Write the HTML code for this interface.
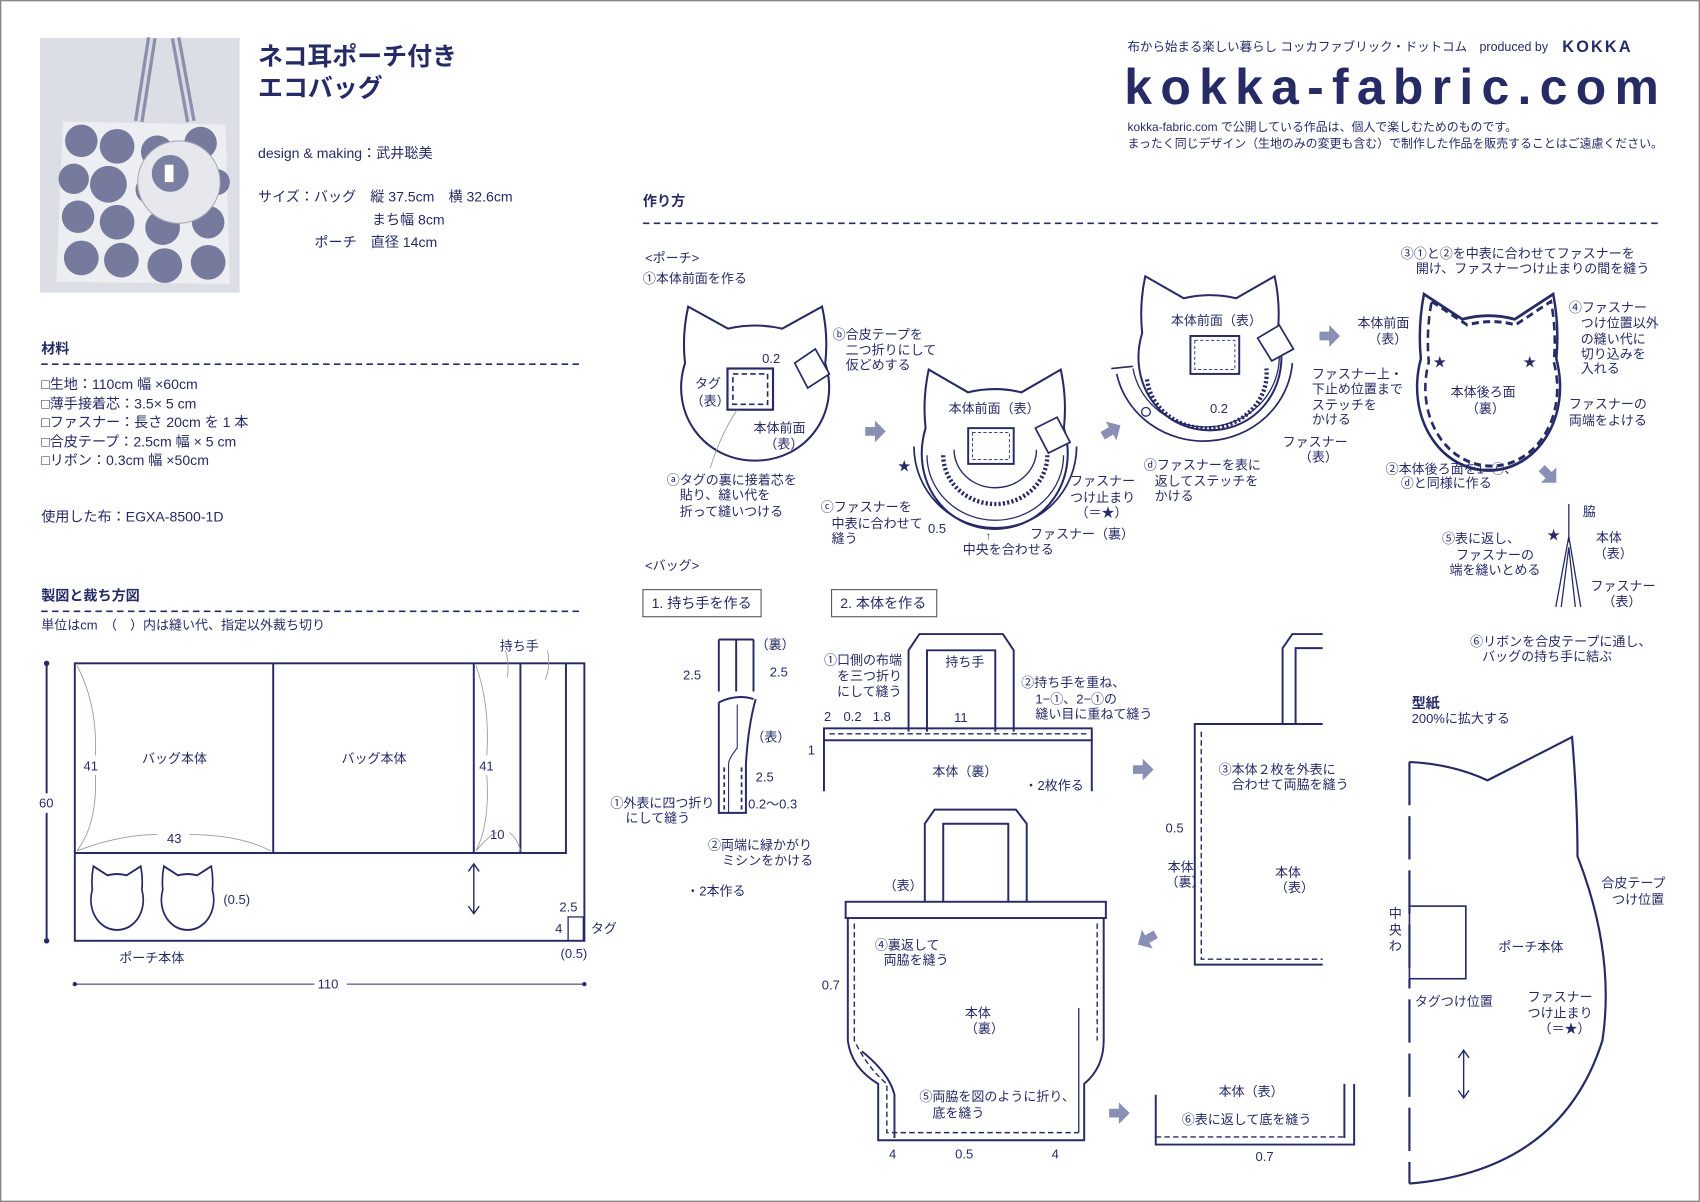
<!DOCTYPE html>
<html><head><meta charset="utf-8"><style>
html,body{margin:0;padding:0;background:#fff;}
svg{display:block;}
text{font-family:"Liberation Sans","Noto Sans CJK JP",sans-serif;fill:#262b66;font-size:12px;}
.b{font-weight:bold;}
</style></head><body>
<svg width="1700" height="1202" viewBox="0 0 1568 1109" preserveAspectRatio="none" xmlns="http://www.w3.org/2000/svg">
<defs>
<path id="cat" d="M8,2 L33,16 Q50,12 67,16 L92,2 Q96,20 94,38 C104,70 82,100 50,100 C18,100 -4,70 6,38 Q4,20 8,2 Z"/>
<path id="arr" d="M0,-4 L9,-4 L9,-10 L19,0 L9,10 L9,4 L0,4 Z" fill="#8a90b5"/>
</defs>
<rect x="0.5" y="0.5" width="1567" height="1108" fill="#fff" stroke="#888" stroke-width="1.5"/>

<!-- photo -->
<rect x="37" y="35" width="184" height="235" fill="#dcdee5"/>
<path d="M140,35 L128,112 M162,35 L176,112" stroke="#8a8fae" stroke-width="9" fill="none"/>
<path d="M140,35 L128,112 M162,35 L176,112" stroke="#d8dae4" stroke-width="3" fill="none"/>
<path d="M58,112 L208,115 L212,262 L52,260 Z" fill="#eceef2"/>
<g fill="#767b9e">
<circle cx="75" cy="130" r="15"/><circle cx="108" cy="135" r="16"/><circle cx="145" cy="140" r="15"/><circle cx="185" cy="132" r="15"/>
<circle cx="68" cy="165" r="14"/><circle cx="100" cy="170" r="17"/><circle cx="138" cy="175" r="13"/><circle cx="200" cy="168" r="12"/>
<circle cx="72" cy="200" r="15"/><circle cx="108" cy="205" r="16"/><circle cx="150" cy="210" r="16"/><circle cx="192" cy="205" r="15"/>
<circle cx="75" cy="238" r="16"/><circle cx="112" cy="240" r="16"/><circle cx="152" cy="245" r="16"/><circle cx="192" cy="242" r="16"/>
</g>
<circle cx="165" cy="168" r="38" fill="#e6e8ee" stroke="#aab" stroke-width="1"/>
<circle cx="157" cy="160" r="17" fill="#7b80a3"/>
<rect x="152" y="152" width="8" height="16" fill="#fff"/>

<!-- title -->
<text x="238" y="60" class="b" style="font-size:23px">ネコ耳ポーチ付き</text>
<text x="238" y="89" class="b" style="font-size:23px">エコバッグ</text>
<text x="238" y="146" style="font-size:13px">design &amp; making：武井聡美</text>
<text x="238" y="186" style="font-size:13px">サイズ：バッグ　縦 37.5cm　横 32.6cm</text>
<text x="343" y="207" style="font-size:13px">まち幅 8cm</text>
<text x="290" y="228" style="font-size:13px">ポーチ　直径 14cm</text>

<text x="38" y="326" class="b" style="font-size:13px">材料</text>
<line x1="38" y1="336" x2="535" y2="336" stroke="#262b66" stroke-width="1.5" stroke-dasharray="6,4"/>
<text x="38" y="359" style="font-size:13px">□生地：110cm 幅 ×60cm</text>
<text x="38" y="377" style="font-size:13px">□薄手接着芯：3.5× 5 cm</text>
<text x="38" y="394" style="font-size:13px">□ファスナー：長さ 20cm を 1 本</text>
<text x="38" y="412" style="font-size:13px">□合皮テープ：2.5cm 幅 × 5 cm</text>
<text x="38" y="429" style="font-size:13px">□リボン：0.3cm 幅 ×50cm</text>
<text x="38" y="481" style="font-size:13px">使用した布：EGXA-8500-1D</text>

<text x="38" y="554" class="b" style="font-size:13px">製図と裁ち方図</text>
<line x1="38" y1="564" x2="535" y2="564" stroke="#262b66" stroke-width="1.5" stroke-dasharray="6,4"/>
<text x="38" y="581">単位はcm　（　）内は縫い代、指定以外裁ち切り</text>

<!-- cutting diagram -->
<g stroke="#262b66" fill="none" stroke-width="1.8">
<rect x="69" y="612" width="470" height="256"/>
<path d="M69,787 L522,787 L522,612 M252,612 L252,787 M437,612 L437,787 M480,612 L480,787"/>
<path d="M437,798 L437,842" stroke-width="1.3"/>
<path d="M432,804 L437,797 L442,804 M432,836 L437,843 L442,836" stroke-width="1.3"/>
<rect x="524" y="846" width="14" height="22" stroke-width="1.2"/>
</g>
<g stroke="#999" fill="none" stroke-width="0.8">
<path d="M71,614 Q90,650 88,697 M88,715 Q90,760 71,785 M71,785 Q110,770 145,770 M175,770 Q220,770 250,785"/>
<path d="M439,614 Q452,650 449,697 M449,715 Q452,760 439,785 M439,785 Q452,770 458,768 M470,768 Q478,775 480,785"/>
<path d="M466,600 Q470,610 468,625 M505,600 Q508,615 503,627"/>
</g>
<use href="#cat" transform="translate(82,798) scale(0.52,0.6)" fill="none" stroke="#262b66" stroke-width="3"/>
<use href="#cat" transform="translate(147,798) scale(0.52,0.6)" fill="none" stroke="#262b66" stroke-width="3"/>
<g stroke="#262b66" fill="none" stroke-width="1.8">
<line x1="43" y1="612" x2="43" y2="732"/><line x1="43" y1="750" x2="43" y2="868"/>
<line x1="69" y1="908" x2="290" y2="908" stroke-width="1"/><line x1="320" y1="908" x2="539" y2="908" stroke-width="1"/>
</g>
<circle cx="43" cy="612" r="2.5" fill="#262b66"/><circle cx="43" cy="868" r="2.5" fill="#262b66"/>
<circle cx="69" cy="908" r="2" fill="#262b66"/><circle cx="539" cy="908" r="2" fill="#262b66"/>
<text x="131" y="704">バッグ本体</text><text x="315" y="704">バッグ本体</text>
<text x="77" y="711">41</text><text x="442" y="711">41</text>
<text x="154" y="778">43</text><text x="452" y="774">10</text>
<text x="36" y="745">60</text><text x="461" y="600">持ち手</text>
<text x="206" y="834">(0.5)</text><text x="110" y="888">ポーチ本体</text>
<text x="516" y="841">2.5</text><text x="512" y="861">4</text><text x="545" y="861">タグ</text><text x="517" y="884">(0.5)</text>
<text x="293" y="912">110</text>

<!-- header right -->
<text x="1040" y="47" style="font-size:11.5px">布から始まる楽しい暮らし コッカファブリック・ドットコム　produced by</text>
<text x="1441" y="48" class="b" style="font-size:15px;letter-spacing:2px">KOKKA</text>
<text x="1037" y="96" class="b" style="font-size:46px;font-family:'Liberation Sans',sans-serif" textLength="493" lengthAdjust="spacing">kokka-fabric.com</text>
<text x="1040" y="121" style="font-size:11px">kokka-fabric.com で公開している作品は、個人で楽しむためのものです。</text>
<text x="1040" y="136" style="font-size:11px">まったく同じデザイン（生地のみの変更も含む）で制作した作品を販売することはご遠慮ください。</text>

<text x="593" y="190" class="b" style="font-size:13px">作り方</text>
<line x1="593" y1="206" x2="1530" y2="206" stroke="#262b66" stroke-width="1.5" stroke-dasharray="6,4"/>
<text x="595" y="242">&lt;ポーチ&gt;</text>
<text x="593" y="261">①本体前面を作る</text>

<!-- cat 1 -->
<use href="#cat" transform="translate(623,280) scale(1.47,1.45)" fill="#fff" stroke="#262b66" stroke-width="1.3"/>
<rect x="671" y="340" width="42" height="38" fill="#fff" stroke="#262b66" stroke-width="2"/>
<rect x="676" y="345" width="32" height="28" fill="none" stroke="#262b66" stroke-width="1.5" stroke-dasharray="5,3"/>
<path d="M733,335 L752,322 L765,345 L745,358 Z" fill="#fff" stroke="#262b66" stroke-width="1.6"/>
<text x="768" y="313">ⓑ合皮テープを</text><text x="780" y="327">二つ折りにして</text><text x="780" y="341">仮どめする</text>
<text x="703" y="335">0.2</text><text x="641" y="358">タグ</text><text x="637" y="374">（表）</text>
<text x="695" y="399">本体前面</text><text x="705" y="414">（表）</text>
<text x="615" y="447">ⓐタグの裏に接着芯を</text><text x="627" y="461">貼り、縫い代を</text><text x="627" y="476">折って縫いつける</text>
<path d="M655,432 Q665,400 680,378" stroke="#999" fill="none" stroke-width="0.8"/>

<use href="#arr" transform="translate(798,398)"/>

<!-- cat 2 -->
<use href="#cat" transform="translate(845,338) scale(1.45,1.5)" fill="#fff" stroke="#262b66" stroke-width="1.3"/>
<path d="M843,412 A75,75 0 0 0 993,412" fill="none" stroke="#262b66" stroke-width="1.6"/>
<path d="M855,420 A63,60 0 0 0 981,420" fill="none" stroke="#262b66" stroke-width="1.2"/>
<path d="M870,420 A48,45 0 0 0 966,420" fill="none" stroke="#262b66" stroke-width="4" stroke-dasharray="2,2"/>
<path d="M880,415 A38,35 0 0 0 956,415" fill="#fff" stroke="#262b66" stroke-width="1.3"/>
<rect x="893" y="395" width="42" height="33" fill="#fff" stroke="#262b66" stroke-width="1.8"/>
<rect x="897" y="399" width="34" height="25" fill="none" stroke="#262b66" stroke-width="0.8" stroke-dasharray="3,2"/>
<path d="M955,395 L975,385 L987,408 L967,418 Z" fill="#fff" stroke="#262b66" stroke-width="1.6"/>
<text x="875" y="381">本体前面（表）</text>
<text x="828" y="434">★</text>
<text x="757" y="472">ⓒファスナーを</text><text x="767" y="487">中表に合わせて</text><text x="767" y="501">縫う</text>
<text x="856" y="492">0.5</text>
<text x="987" y="448">ファスナー</text><text x="987" y="463">つけ止まり</text><text x="992" y="477">（＝★）</text>
<text x="950" y="497">ファスナー（裏）</text>
<text x="888" y="511">中央を合わせる</text><text x="909" y="498" style="font-size:10px">↑</text>

<use href="#arr" transform="translate(1017,402) rotate(-30)"/>

<!-- cat 3 -->
<use href="#cat" transform="translate(1045,252) scale(1.42,1.45)" fill="#fff" stroke="#262b66" stroke-width="1.3"/>
<path d="M1030,345 A82,78 0 0 0 1192,335" fill="none" stroke="#262b66" stroke-width="1.6"/>
<path d="M1045,340 A68,65 0 0 0 1180,330" fill="none" stroke="#262b66" stroke-width="1.2"/>
<path d="M1058,350 A55,50 0 0 0 1168,340" fill="none" stroke="#262b66" stroke-width="4" stroke-dasharray="2,2"/>
<path d="M1025,340 L1045,338" stroke="#262b66" stroke-width="1.5"/>
<circle cx="1057" cy="380" r="4" fill="none" stroke="#262b66" stroke-width="1.2"/>
<rect x="1098" y="310" width="45" height="35" fill="#fff" stroke="#262b66" stroke-width="1.8"/>
<rect x="1102" y="314" width="37" height="27" fill="none" stroke="#262b66" stroke-width="0.8" stroke-dasharray="3,2"/>
<path d="M1160,312 L1180,300 L1193,322 L1173,333 Z" fill="#fff" stroke="#262b66" stroke-width="1.6"/>
<text x="1080" y="300">本体前面（表）</text><text x="1116" y="381">0.2</text>
<text x="1210" y="349">ファスナー上・</text><text x="1210" y="363">下止め位置まで</text><text x="1210" y="378">ステッチを</text><text x="1210" y="391">かける</text>
<text x="1183" y="412">ファスナー</text><text x="1198" y="426">（表）</text>
<text x="1055" y="433">ⓓファスナーを表に</text><text x="1065" y="448">返してステッチを</text><text x="1065" y="462">かける</text>

<use href="#arr" transform="translate(1217,310)"/>

<!-- cat 4 -->
<use href="#cat" transform="translate(1302,268) scale(1.42,1.66)" fill="#fff" stroke="#262b66" stroke-width="1.6"/>
<use href="#cat" transform="translate(1310,275) scale(1.31,1.55)" fill="none" stroke="#262b66" stroke-width="1.8" stroke-dasharray="5,3"/>
<text x="1292" y="238">③①と②を中表に合わせてファスナーを</text><text x="1306" y="252">開け、ファスナーつけ止まりの間を縫う</text>
<text x="1252" y="302">本体前面</text><text x="1262" y="317">（表）</text>
<text x="1447" y="288">④ファスナー</text><text x="1458" y="302">つけ位置以外</text><text x="1458" y="317">の縫い代に</text><text x="1458" y="331">切り込みを</text><text x="1458" y="344">入れる</text>
<text x="1322" y="338">★</text><text x="1405" y="338">★</text>
<text x="1338" y="366">本体後ろ面</text><text x="1352" y="381">（裏）</text>
<text x="1447" y="377">ファスナーの</text><text x="1447" y="392">両端をよける</text>
<text x="1278" y="437">②本体後ろ面を1−ⓒ、</text><text x="1292" y="450">ⓓと同様に作る</text>

<use href="#arr" transform="translate(1422,432) rotate(45)"/>

<!-- step 5 -->
<g stroke="#262b66" fill="none" stroke-width="1.2">
<line x1="1447" y1="465" x2="1447" y2="500"/>
<path d="M1447,495 L1435,560 M1447,495 L1458,560 M1447,505 L1440,560 M1447,505 L1453,560"/>
</g>
<text x="1460" y="476">脇</text>
<text x="1330" y="501">⑤表に返し、</text><text x="1343" y="516">ファスナーの</text><text x="1337" y="530">端を縫いとめる</text>
<text x="1427" y="498">★</text>
<text x="1472" y="500">本体</text><text x="1470" y="515">（表）</text>
<text x="1467" y="545">ファスナー</text><text x="1478" y="559">（表）</text>
<text x="1356" y="596">⑥リボンを合皮テープに通し、</text><text x="1367" y="610">バッグの持ち手に結ぶ</text>

<!-- bag section -->
<text x="595" y="526">&lt;バッグ&gt;</text>
<rect x="593" y="544" width="109" height="25" fill="none" stroke="#555" stroke-width="1"/>
<text x="601" y="561" style="font-size:13px">1. 持ち手を作る</text>
<rect x="767" y="544" width="97" height="25" fill="none" stroke="#555" stroke-width="1"/>
<text x="775" y="561" style="font-size:13px">2. 本体を作る</text>

<!-- handle -->
<g stroke="#262b66" fill="none" stroke-width="1.8">
<path d="M663,590 L663,638 M695,590 L695,638 M663,590 L695,590 M679,590 L679,638"/>
<path d="M663,648 Q680,640 695,645 M663,648 L663,750 L688,750 L688,705 Q690,670 697,645"/>
<path d="M680,650 L680,690 Q672,700 672,705 L672,750" stroke-width="1"/>
<path d="M668,708 L668,748 M684,708 L684,748" stroke-dasharray="4,3" stroke-width="1.6"/>
</g>
<text x="697" y="599">（裏）</text><text x="630" y="627">2.5</text><text x="710" y="624">2.5</text>
<text x="693" y="684">（表）</text><text x="697" y="721">2.5</text><text x="690" y="746">0.2〜0.3</text>
<text x="563" y="745">①外表に四つ折り</text><text x="577" y="759">にして縫う</text>
<text x="653" y="784">②両端に緑かがり</text><text x="666" y="798">ミシンをかける</text>
<text x="633" y="826">・2本作る</text>

<!-- step2 body -->
<g stroke="#262b66" fill="none" stroke-width="1.8">
<path d="M838,675 L838,600 L848,585 L925,585 L935,600 L935,675"/>
<path d="M855,675 L855,600 L918,600 L918,675"/>
<rect x="760" y="672" width="247" height="11"/>
<path d="M760,683 L760,730 M1007,683 L1007,730"/>
<path d="M765,677 L1002,677" stroke-dasharray="5,3" stroke-width="1.3"/>
</g>
<text x="760" y="613">①口側の布端</text><text x="772" y="628">を三つ折り</text><text x="772" y="642">にして縫う</text>
<text x="872" y="615">持ち手</text>
<text x="942" y="634">②持ち手を重ね、</text><text x="955" y="649">1−①、2−①の</text><text x="955" y="663">縫い目に重ねて縫う</text>
<text x="760" y="665">2</text><text x="778" y="665">0.2</text><text x="805" y="665">1.8</text><text x="880" y="666">11</text>
<text x="745" y="696">1</text><text x="860" y="716">本体（裏）</text><text x="945" y="729">・2枚作る</text>

<use href="#arr" transform="translate(1045,710)"/>

<!-- step3 -->
<g stroke="#262b66" fill="none" stroke-width="1.8">
<path d="M1220,585 L1192,585 L1183,598 L1183,668 M1195,598 L1195,668 L1195,598 L1220,598"/>
<path d="M1220,668 L1102,668 L1102,890 L1220,890"/>
<path d="M1108,675 L1108,885 L1220,885" stroke-dasharray="5,3" stroke-width="1.3"/>
</g>
<text x="1124" y="714">③本体２枚を外表に</text><text x="1136" y="728">合わせて両脇を縫う</text>
<text x="1075" y="768">0.5</text><text x="1077" y="804">本体</text><text x="1075" y="818">（裏）</text>
<text x="1176" y="809">本体</text><text x="1176" y="823">（表）</text>

<use href="#arr" transform="translate(1066,862) rotate(150)"/>

<!-- step4 -->
<g stroke="#262b66" fill="none" stroke-width="1.8">
<path d="M853,832 L853,760 L862,747 L937,747 L947,760 L947,832"/>
<path d="M870,832 L870,760 L930,760 L930,832"/>
<rect x="780" y="832" width="240" height="15"/>
<path d="M782,847 L782,960 Q785,985 810,1000 L810,1052 L1000,1052 L1000,1000 Q1018,985 1018,960 L1018,847"/>
<path d="M795,970 Q820,990 825,1010 L825,1050"/>
<path d="M788,852 L788,960 Q800,985 818,1000 L818,1045 L995,1045" stroke-dasharray="5,3" stroke-width="1.3"/>
<path d="M1012,852 L1012,960" stroke-dasharray="5,3" stroke-width="1.3"/>
<path d="M995,930 L995,1045" stroke-width="1.2"/>
</g>
<text x="815" y="821">（表）</text>
<text x="807" y="876">④裏返して</text><text x="815" y="890">両脇を縫う</text>
<text x="758" y="913">0.7</text><text x="890" y="939">本体</text><text x="890" y="953">（裏）</text>
<text x="848" y="1016">⑤両脇を図のように折り、</text><text x="860" y="1031">底を縫う</text>
<text x="820" y="1069">4</text><text x="881" y="1069">0.5</text><text x="970" y="1069">4</text>

<use href="#arr" transform="translate(1023,1027)"/>

<!-- step6 -->
<g stroke="#262b66" fill="none" stroke-width="1.8">
<path d="M1066,1010 L1066,1056 L1249,1056 L1249,1000 M1240,1000 L1240,1050"/>
<path d="M1066,1049 L1240,1049" stroke-dasharray="5,3" stroke-width="1.3"/>
</g>
<text x="1124" y="1011">本体（表）</text><text x="1090" y="1037">⑥表に返して底を縫う</text><text x="1158" y="1071">0.7</text>

<!-- pattern -->
<text x="1302" y="653" class="b" style="font-size:13px">型紙</text>
<text x="1302" y="667">200%に拡大する</text>
<g stroke="#262b66" fill="none" stroke-width="2">
<path d="M1300,703 Q1340,705 1372,720 L1450,680 Q1455,740 1455,790 Q1490,880 1478,960 Q1440,1080 1300,1092"/>
<path d="M1300,703 L1300,912 M1300,922 L1300,1092" stroke-dasharray="40,10"/>
<rect x="1300" y="836" width="52" height="67" stroke-width="1.5"/>
<path d="M1350,970 L1350,1012 M1345,976 L1350,969 L1355,976 M1345,1006 L1350,1013 L1355,1006" stroke-width="1.3"/>
</g>
<text x="1281" y="847">中</text><text x="1281" y="862">央</text><text x="1281" y="877">わ</text>
<text x="1477" y="819">合皮テープ</text><text x="1487" y="834">つけ位置</text>
<text x="1382" y="878">ポーチ本体</text><text x="1305" y="928">タグつけ位置</text>
<text x="1409" y="924">ファスナー</text><text x="1409" y="939">つけ止まり</text><text x="1419" y="953">（＝★）</text>
</svg>
</body></html>
